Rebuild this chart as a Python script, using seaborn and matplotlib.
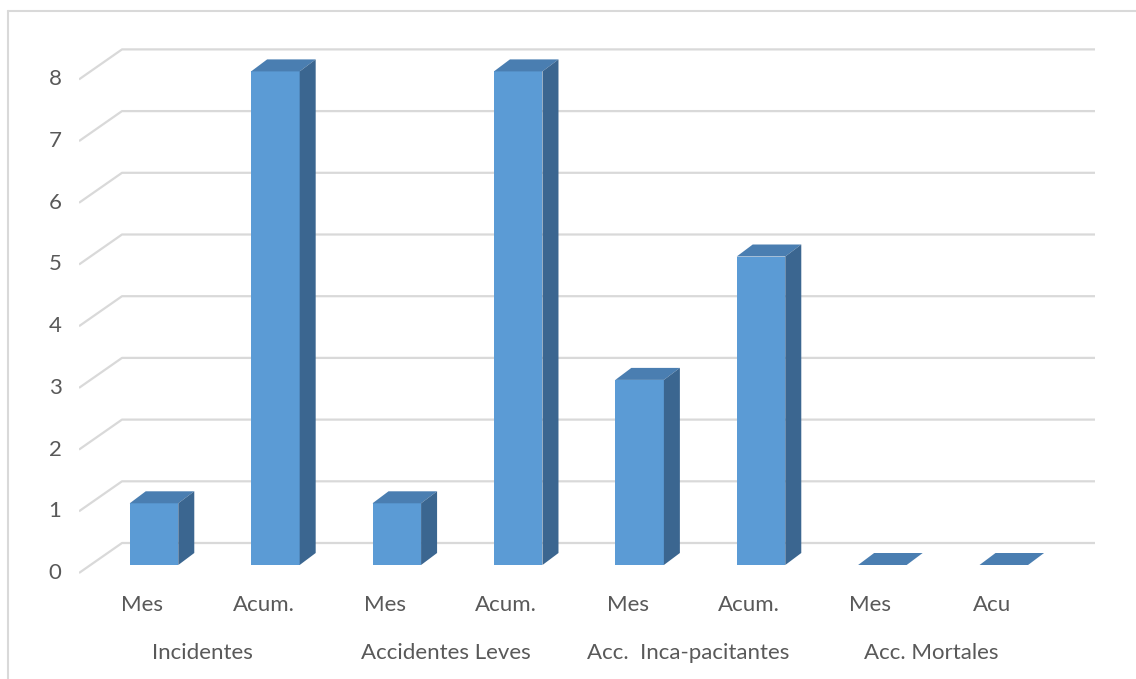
import matplotlib
matplotlib.use("Agg")
import matplotlib.pyplot as plt
from matplotlib.patches import Polygon
from matplotlib.lines import Line2D
import numpy as np
import pandas as pd
import seaborn as sns

sns.set_theme(style="white")
plt.rcParams["font.family"] = ["Lato", "DejaVu Sans"]

# data
groups = ["Incidentes", "Accidentes Leves", "Acc.  Inca-pacitantes", "Acc. Mortales"]
bar_labels = ["Mes", "Acum.", "Mes", "Acum.", "Mes", "Acum.", "Mes", "Acu"]
values = [1, 8, 1, 8, 3, 5, 0, 0]
y_ticks = [0, 1, 2, 3, 4, 5, 6, 7, 8]

FRONT = "#5B9BD5"
TOP = "#4A7EB1"
SIDE = "#3B6690"
GRID = "#D9D9D9"
TEXT = "#595959"
FS = 16

W, H = 1136, 679
X_PX = 121.4   # pixels per category
Y_PX = 61.7    # pixels per unit value

df = pd.DataFrame({
    "slot": [f"{g}|{b}" for g, b in zip(np.repeat(groups, 2), bar_labels)],
    "value": values,
})

fig = plt.figure(figsize=(W / 100, H / 100), dpi=100)
# axes placed so one category = X_PX pixels, one unit = Y_PX pixels
ax_left, ax_right, ax_top, ax_bottom = 79, 1095, 30, 600
ax = fig.add_axes([ax_left / W, 1 - ax_bottom / H, (ax_right - ax_left) / W, (ax_bottom - ax_top) / H])

sns.barplot(data=df, x="slot", y="value", order=df["slot"], color=FRONT,
            width=0.4, saturation=1, ax=ax, zorder=3)

ax.set_xlim((ax_left - 154) / X_PX, (ax_right - 154) / X_PX)
ax.set_ylim((565 - ax_bottom) / Y_PX, (565 - ax_top) / Y_PX)
x_min = ax.get_xlim()[0]

# pseudo 3D wall grid: diagonal from front edge to back wall, then horizontal
back_dx = 43 / X_PX
front_dy = -8 / Y_PX
back_dy = 22 / Y_PX
for v in y_ticks:
    ax.plot([x_min, x_min + back_dx, ax.get_xlim()[1]],
            [v + front_dy, v + back_dy, v + back_dy],
            color=GRID, lw=1.6, zorder=1, solid_capstyle="butt")
    ax.text(x_min - 24 / X_PX, v + front_dy, str(v), ha="center", va="center",
            fontsize=FS, color=TEXT)

# bar depth faces
bar_dx = 16 / X_PX
bar_dy = 12 / Y_PX
for patch in ax.patches:
    x0 = patch.get_x()
    x1 = x0 + patch.get_width()
    h = patch.get_height()
    top = Polygon([(x0, h), (x1, h), (x1 + bar_dx, h + bar_dy), (x0 + bar_dx, h + bar_dy)],
                  closed=True, facecolor=TOP, edgecolor="none", zorder=4)
    ax.add_patch(top)
    if h > 0:
        side = Polygon([(x1, 0), (x1, h), (x1 + bar_dx, h + bar_dy), (x1 + bar_dx, bar_dy)],
                       closed=True, facecolor=SIDE, edgecolor="none", zorder=4)
        ax.add_patch(side)
    patch.set_edgecolor("none")

# category labels
label_shift = -12 / X_PX
for i, lab in enumerate(bar_labels):
    ax.text(i + label_shift, (565 - 605) / Y_PX, lab, ha="center", va="center",
            fontsize=FS, color=TEXT)
for g, name in enumerate(groups):
    ax.text(2 * g + 0.5 + label_shift, (565 - 653) / Y_PX, name, ha="center", va="center",
            fontsize=FS, color=TEXT)

ax.set_xlabel("")
ax.set_ylabel("")
ax.set_xticks([])
ax.set_yticks([])
for s in ax.spines.values():
    s.set_visible(False)
ax.patch.set_alpha(0)

# chart area border (top and left visible)
fig.add_artist(Line2D([8 / W, 8 / W], [0, 1 - 11 / H], color=GRID, lw=1.5, transform=fig.transFigure))
fig.add_artist(Line2D([8 / W, 1], [1 - 11 / H, 1 - 11 / H], color=GRID, lw=1.5, transform=fig.transFigure))

fig.savefig("out.png", dpi=100)
plt.close(fig)
